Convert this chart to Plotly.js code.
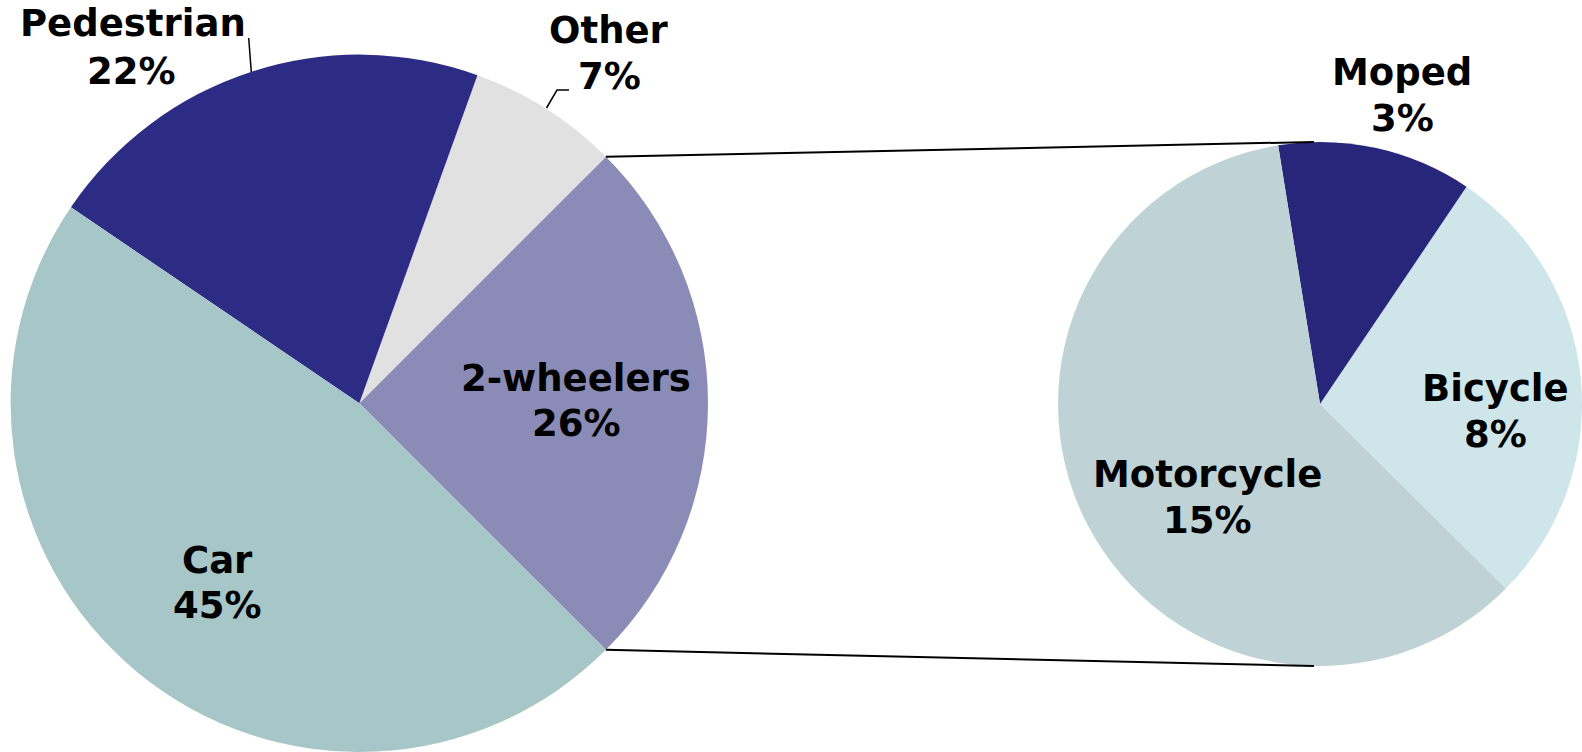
<!DOCTYPE html>
<html>
<head>
<meta charset="utf-8">
<script src="https://cdn.plot.ly/plotly-3.0.1.min.js"></script>
<style>html,body{margin:0;padding:0;background:#fff;}#chart{width:1582px;height:752px;}</style>
</head>
<body>
<div id="chart"></div>
<script>
// ---- Data ----
const mainLabels = ['2-wheelers', 'Other', 'Pedestrian', 'Car'];
const mainValues = [25, 7, 21, 47];
const mainPctText = ['26%', '7%', '22%', '45%'];

const subLabels = ['Bicycle', 'Moped', 'Motorcycle'];
const subValues = [7, 3, 15];
const subPctText = ['8%', '3%', '15%'];

// ---- Styles / layout ----
const W = 1582, H = 752;
const mainColors = ['#8A8BB6', '#E1E1E1', '#2D2C84', '#A6C6C8'];
const subColors = ['#CEE6EA', '#28267A', '#BFD3D6'];
// plotly counterclockwise: first slice lies clockwise of the rotation point
const mainRotation = 45;
const subRotation = 34;
const mainDomain = {x: [10.3 / W, 708.3 / W], y: [0, 697.4 / H]};
const subDomain = {x: [1058 / W, 1], y: [86 / H, 610 / H]};

// label positions in pixels (center of each text line)
const mainLabelPos = {
  '2-wheelers': [576, 378, 576, 423],
  'Other': [609, 31, 609, 77],
  'Pedestrian': [133, 24, 131, 72],
  'Car': [217, 560, 217, 605]
};
const subLabelPos = {
  'Bicycle': [1495, 388, 1495, 434],
  'Moped': [1402, 73, 1402, 118],
  'Motorcycle': [1207, 474, 1207, 520]
};

const font = {family: 'DejaVu Sans, Verdana, sans-serif', size: 37, color: '#000', weight: 'bold'};
const px = x => x / W;
const py = y => 1 - y / H;

const annotations = [];
function addLabel(pos, name, pct) {
  annotations.push({xref: 'paper', yref: 'paper', x: px(pos[0]), y: py(pos[1]), text: name,
    showarrow: false, xanchor: 'center', yanchor: 'middle', font: font});
  annotations.push({xref: 'paper', yref: 'paper', x: px(pos[2]), y: py(pos[3]), text: pct,
    showarrow: false, xanchor: 'center', yanchor: 'middle', font: font});
}
mainLabels.forEach((l, i) => addLabel(mainLabelPos[l], l, mainPctText[i]));
subLabels.forEach((l, i) => addLabel(subLabelPos[l], l, subPctText[i]));

// geometry of pies (pixel)
function pieGeom(d) {
  const x0 = d.x[0] * W, x1 = d.x[1] * W;
  const y0 = (1 - d.y[1]) * H, y1 = (1 - d.y[0]) * H;
  return {cx: (x0 + x1) / 2, cy: (y0 + y1) / 2, r: Math.min(x1 - x0, y1 - y0) / 2};
}
const g1 = pieGeom(mainDomain), g2 = pieGeom(subDomain);
const total = mainValues.reduce((a, b) => a + b, 0);
const topAng = (90 - mainRotation) * Math.PI / 180;
const botAng = topAng - 2 * Math.PI * mainValues[0] / total;
const topPt = [g1.cx + g1.r * Math.cos(topAng), g1.cy - g1.r * Math.sin(topAng)];
const botPt = [g1.cx + g1.r * Math.cos(botAng), g1.cy - g1.r * Math.sin(botAng)];
const subTop = [g2.cx - 0.023 * g2.r, g2.cy - g2.r];
const subBot = [g2.cx - 0.023 * g2.r, g2.cy + g2.r];

const lineStyle = {color: '#000', width: 2};
const shapes = [
  {type: 'line', xref: 'paper', yref: 'paper', x0: px(topPt[0]), y0: py(topPt[1]), x1: px(subTop[0]), y1: py(subTop[1]), line: lineStyle},
  {type: 'line', xref: 'paper', yref: 'paper', x0: px(botPt[0]), y0: py(botPt[1]), x1: px(subBot[0]), y1: py(subBot[1]), line: lineStyle},
  // leader lines
  {type: 'line', xref: 'paper', yref: 'paper', x0: px(248.7), y0: py(38), x1: px(251.3), y1: py(72), line: {color: '#000', width: 1.5}},
  {type: 'path', xref: 'paper', yref: 'paper',
   path: 'M ' + px(569) + ',' + py(90) + ' L ' + px(557) + ',' + py(90) + ' L ' + px(546.5) + ',' + py(108),
   line: {color: '#000', width: 1.5}}
];

const traces = [
  {type: 'pie', labels: mainLabels, values: mainValues, sort: false, direction: 'counterclockwise',
   rotation: mainRotation, domain: mainDomain, textinfo: 'none', hoverinfo: 'label+value',
   marker: {colors: mainColors, line: {width: 0}}},
  {type: 'pie', labels: subLabels, values: subValues, sort: false, direction: 'counterclockwise',
   rotation: subRotation, domain: subDomain, textinfo: 'none', hoverinfo: 'label+value',
   marker: {colors: subColors, line: {width: 0}}}
];

const layout = {
  width: W, height: H, margin: {l: 0, r: 0, t: 0, b: 0, pad: 0},
  showlegend: false, paper_bgcolor: '#fff', plot_bgcolor: '#fff',
  annotations: annotations, shapes: shapes
};
Plotly.newPlot('chart', traces, layout, {displayModeBar: false, staticPlot: true});
</script>
</body>
</html>
